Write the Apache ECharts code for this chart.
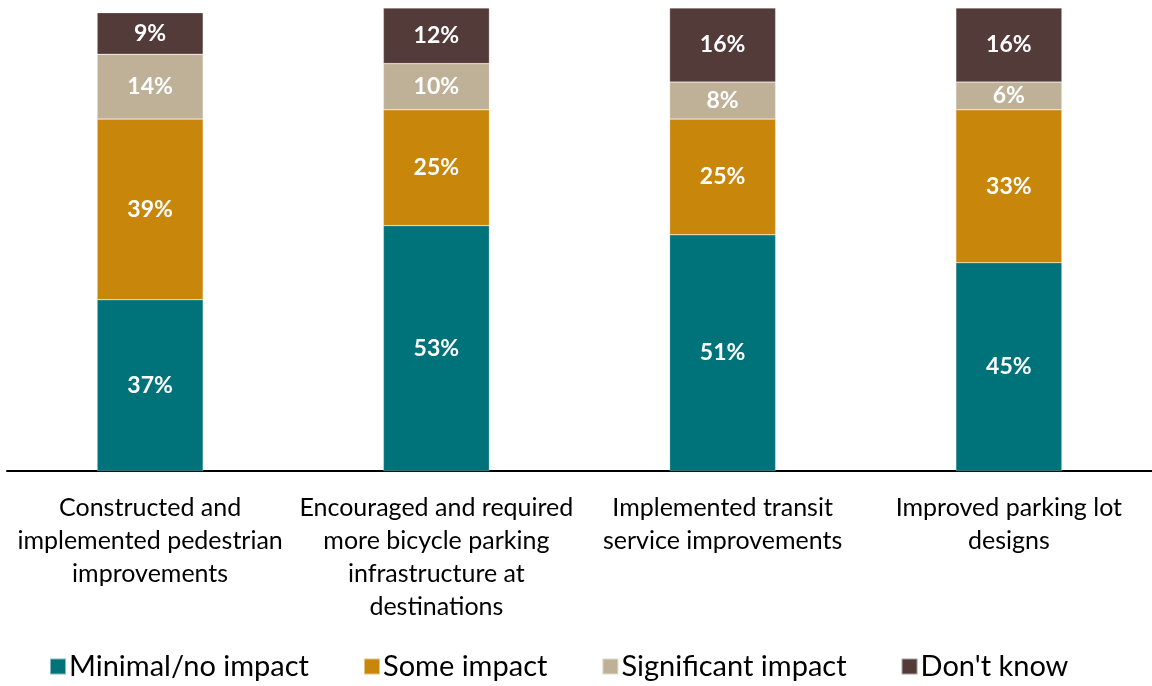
<!DOCTYPE html>
<html><head><meta charset="utf-8">
<script src="https://cdn.jsdelivr.net/npm/echarts@6/dist/echarts.min.js"></script>
<style>html,body{margin:0;padding:0;background:#fff}#c{width:1152px;height:686px}</style>
</head><body><div id="c"></div>
<script>
const categories = [
  'Constructed and\nimplemented pedestrian\nimprovements',
  'Encouraged and required\nmore bicycle parking\ninfrastructure at\ndestinations',
  'Implemented transit\nservice improvements',
  'Improved parking lot\ndesigns'
];
const seriesNames = ['Minimal/no impact', 'Some impact', 'Significant impact', "Don't know"];
const minimal = [37, 53, 51, 45];
const some = [39, 25, 25, 33];
const significant = [14, 10, 8, 6];
const dontKnow = [9, 12, 16, 16];
const colors = ['#00727A', '#C8860A', '#BFB197', '#533B3A'];

const FONT = 'Lato';
const data = [minimal, some, significant, dontKnow];
const chart = echarts.init(document.getElementById('c'));
chart.setOption({
  animation: false,
  textStyle: {fontFamily: FONT},
  grid: {left: 7, right: -2, top: 8, bottom: 215, containLabel: false},
  legend: {
    bottom: 0, left: 44, itemWidth: 16, itemHeight: 16, itemGap: 54,
    icon: 'rect',
    textStyle: {fontSize: 29, color: '#000', fontFamily: FONT, padding: [0,0,0,-2]},
    data: seriesNames
  },
  xAxis: {
    type: 'category', data: categories,
    axisLine: {lineStyle: {color: '#000', width: 2}},
    axisTick: {show: false},
    axisLabel: {color: '#000', fontSize: 25, lineHeight: 33, margin: 20, interval: 0, fontFamily: FONT}
  },
  yAxis: {type: 'value', min: 0, max: 100, show: false},
  series: data.map((d, i) => ({
    name: seriesNames[i], type: 'bar', stack: 'all', data: d, barWidth: 106,
    itemStyle: {color: colors[i], borderColor: 'rgba(255,255,255,0.5)', borderWidth: 0.5},
    label: {show: true, position: 'inside', formatter: '{c}%', color: '#fff', fontSize: 23, fontWeight: 'bold', fontFamily: FONT}
  }))
});
</script></body></html>
